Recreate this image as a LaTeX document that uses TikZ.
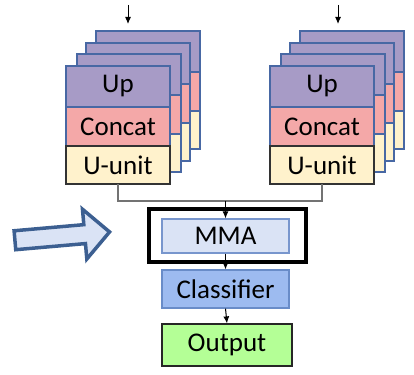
\documentclass[tikz,border=0pt]{standalone}
\usepackage{fontspec}
\setmainfont{Carlito}
\usepackage{tikz}
\usetikzlibrary{positioning,shapes.arrows,arrows.meta}
\definecolor{upfill}{RGB}{167,155,198}
\definecolor{catfill}{RGB}{244,168,168}
\definecolor{unitfill}{RGB}{255,242,204}
\definecolor{layeredge}{RGB}{72,104,164}
\definecolor{mmafill}{RGB}{218,227,245}
\definecolor{mmaedge}{RGB}{120,150,205}
\definecolor{clsfill}{RGB}{157,187,240}
\definecolor{clsedge}{RGB}{105,140,200}
\definecolor{outfill}{RGB}{180,255,150}
\definecolor{pointeredge}{RGB}{60,95,145}

\begin{document}
\begin{tikzpicture}[x=1pt,y=-1pt,
  band/.style={draw=layeredge,line width=1.2pt,minimum width=104pt,inner sep=0pt,outer sep=0pt,font=\fontsize{27}{30}\selectfont},
  upband/.style={band,fill=upfill,minimum height=41pt},
  catband/.style={band,fill=catfill,minimum height=39pt},
  unitband/.style={band,fill=unitfill,minimum height=38pt},
  box/.style={draw,line width=1.2pt,inner sep=0pt,font=\fontsize{27}{30}\selectfont},
  flow/.style={-{Latex[length=7pt,width=6pt]},line width=1pt}]
\useasboundingbox (0,0) rectangle (414,374);

\foreach \side/\x in {L/66,R/270}{
  \foreach \dx/\dy [count=\k] in {30/-35,20/-23,11/-12}{
    \node[upband,anchor=north west] (up\side\k) at (\x+\dx,66+\dy) {};
    \node[catband,below=0pt of up\side\k] (cat\side\k) {};
    \node[unitband,below=0pt of cat\side\k] (unit\side\k) {};
  }
  \node[upband,anchor=north west] (up\side) at (\x,66) {Up};
  \node[catband,below=0pt of up\side] (cat\side) {Concat};
  \node[unitband,draw=black!80,below=0pt of cat\side] (unit\side) {U-unit};
}

\coordinate (inL) at (128,5);
\coordinate (tipL) at (128,24);
\coordinate (inR) at (338,5);
\coordinate (tipR) at (338,24);
\draw[flow] (inL) -- (tipL);
\draw[flow] (inR) -- (tipR);

\node[box,draw=black,line width=4.5pt,minimum width=157pt,minimum height=53pt] (mmabox) at (227.5,235.5) {};
\node[box,draw=mmaedge,fill=mmafill,minimum width=127pt,minimum height=34pt] (mma) at (225.5,236) {MMA};
\node[box,draw=clsedge,fill=clsfill,minimum width=127pt,minimum height=38pt] (cls) at (225.5,289) {Classifier};
\node[box,draw=black!85,fill=outfill,minimum width=130pt,minimum height=42pt] (out) at (227,345) {Output};

\coordinate (join) at (225.5,201);
\draw[black!55,line width=1.2pt] (unitL.south) |- (join) -| (unitR.south);
\draw[flow] (join) -- (mma.north);
\draw[flow] (mma.south) -- (cls.north);
\draw[flow] (cls.south) -- (out.north);

\node[single arrow,draw=pointeredge,fill=mmafill,line width=3.5pt,single arrow head extend=15.5pt,minimum height=95pt,inner xsep=0pt,inner ysep=7.75pt,rotate=5] (pointer) at (57.5,236.5) {};
\end{tikzpicture}
\end{document}
